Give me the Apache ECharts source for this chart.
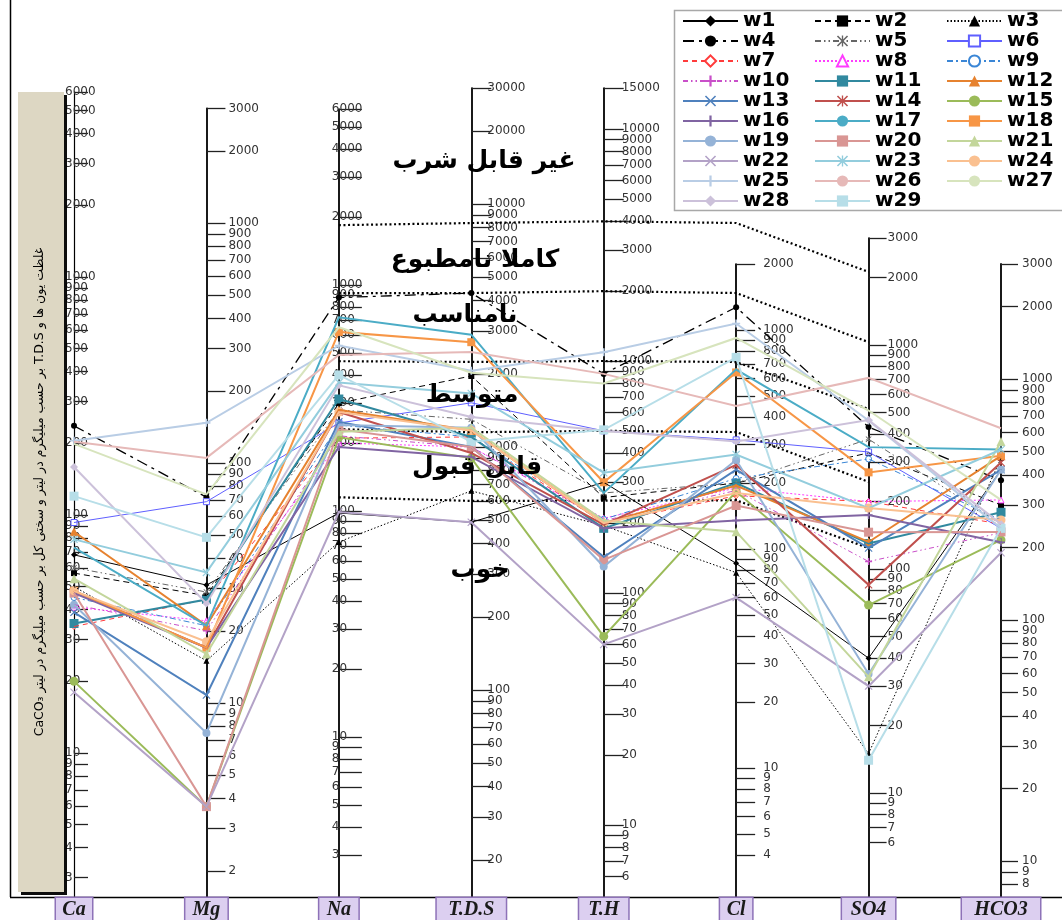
<!DOCTYPE html>
<html>
<head>
<meta charset="utf-8">
<script src="https://cdn.jsdelivr.net/npm/echarts@6/dist/echarts.min.js"></script>
<style>
  html, body { margin: 0; padding: 0; background: #fff; }
  #chart { width: 1062px; height: 920px; }
</style>
</head>
<body>
<div id="chart"></div>
<script>
// ---- Axes (Schoeller diagram, mg/L; total hardness as CaCO3) ----
const axisNames = ['Ca', 'Mg', 'Na', 'T.D.S', 'T.H', 'Cl', 'SO4', 'HCO3'];

// tick labels printed along each axis
const caTicks   = [6000,5000,4000,3000,2000,1000,900,800,700,600,500,400,300,200,100,90,80,70,60,50,40,30,20,10,9,8,7,6,5,4,3];
const mgTicks   = [3000,2000,1000,900,800,700,600,500,400,300,200,100,90,80,70,60,50,40,30,20,10,9,8,7,6,5,4,3,2];
const naTicks   = [6000,5000,4000,3000,2000,1000,900,800,700,600,500,400,300,200,100,90,80,70,60,50,40,30,20,10,9,8,7,6,5,4,3];
const tdsTicks  = [30000,20000,10000,9000,8000,7000,6000,5000,4000,3000,2000,1000,900,800,700,600,500,400,300,200,100,90,80,70,60,50,40,30,20];
const thTicks   = [15000,10000,9000,8000,7000,6000,5000,4000,3000,2000,1000,900,800,700,600,500,400,300,200,100,90,80,70,60,50,40,30,20,10,9,8,7,6];
const clTicks   = [2000,1000,900,800,700,600,500,400,300,200,100,90,80,70,60,50,40,30,20,10,9,8,7,6,5,4];
const so4Ticks  = [3000,2000,1000,900,800,700,600,500,400,300,200,100,90,80,70,60,50,40,30,20,10,9,8,7,6];
const hco3Ticks = [3000,2000,1000,900,800,700,600,500,400,300,200,100,90,80,70,60,50,40,30,20,10,9,8];
const axisTicks = [caTicks, mgTicks, naTicks, tdsTicks, thTicks, clTicks, so4Ticks, hco3Ticks];

// ---- Wells: [Ca, Mg, Na, TDS, TH, Cl, SO4, HCO3] ----
const w1  = [68, 31, 98, 490, 300, 86, 40, 420];
const w2  = [57, 28, 300, 1960, 258, 200, 330, 300];
const w3  = [50, 15, 73, 660, 195, 78, 15, 470];
const w4  = [237, 72, 880, 4300, 880, 1270, 430, 380];
const w5  = [60, 29, 280, 1300, 270, 200, 380, 250];
const w6  = [93, 69, 245, 1520, 500, 315, 333, 240];
const w7  = [34, 27, 210, 1100, 200, 175, 200, 250];
const w8  = [41, 22, 200, 1000, 210, 190, 200, 315];
const w9  = [45, 21, 240, 1100, 208, 210, 310, 260];
const w10 = [42, 20, 215, 1000, 205, 185, 108, 230];
const w11 = [35, 27, 313, 1100, 190, 200, 130, 280];
const w12 = [85, 21, 280, 1170, 200, 195, 132, 480];
const w13 = [39, 10.8, 248, 1000, 143, 230, 124, 420];
const w14 = [48, 17, 274, 945, 197, 242, 85, 450];
const w15 = [20, 3.7, 212, 900, 65, 183, 69, 215];
const w16 = [47, 17, 192, 910, 190, 135, 174, 210];
const w17 = [73, 21, 720, 2900, 270, 660, 350, 510];
const w18 = [48, 17, 620, 2700, 300, 640, 270, 480];
const w19 = [42, 7.5, 240, 1200, 130, 255, 34, 420];
const w20 = [47, 3.7, 230, 1000, 139, 158, 146, 232];
const w21 = [54, 16, 224, 1200, 205, 120, 33, 550];
const w22 = [18, 3.7, 99, 490, 60, 60, 30, 190];
const w23 = [79, 35, 370, 1660, 330, 270, 187, 510];
const w24 = [48, 18, 274, 1170, 200, 180, 187, 260];
const w25 = [205, 147, 540, 2060, 1090, 1070, 460, 240];
const w26 = [203, 105, 490, 2460, 880, 450, 713, 625];
const w27 = [199, 74, 650, 2020, 800, 920, 510, 315];
const w28 = [159, 26, 360, 1330, 500, 310, 462, 250];
const w29 = [120, 49, 400, 1050, 505, 750, 14, 240];
const wellNames = ['w1','w2','w3','w4','w5','w6','w7','w8','w9','w10','w11','w12','w13','w14','w15',
                   'w16','w17','w18','w19','w20','w21','w22','w23','w24','w25','w26','w27','w28','w29'];
const wells = [w1,w2,w3,w4,w5,w6,w7,w8,w9,w10,w11,w12,w13,w14,w15,w16,w17,w18,w19,w20,w21,w22,w23,w24,w25,w26,w27,w28,w29];

// ---- Drinking-water class boundaries (Na, TDS, TH, Cl, SO4) ----
const naLimits  = [1840, 920, 460, 230, 115];
const tdsLimits = [8350, 4300, 2240, 1150, 600];
const thLimits  = [4000, 2000, 1000, 500, 250];
const clLimits  = [3080, 1475, 714, 342, 167];
const so4Limits = [2120, 1030, 518, 245, 124];
const classNames = ['غیر قابل شرب', 'کاملا نامطبوع', 'نامناسب', 'متوسط', 'قابل قبول', 'خوب'];

// ---- Layout ----
const W = 1062;
const plotTop = 88, plotBottom = 897;
const firstX = 74, stepX = 132.43;
const axisX = i => firstX + i * stepX;
// each axis: pixel of the value 100, pixels per decade, top printed value
const axisScale = [
  { y100: 515, k: 238, top: 6000 },
  { y100: 463, k: 240, top: 3000 },
  { y100: 511, k: 226, top: 6000 },
  { y100: 690, k: 243, top: 30000 },
  { y100: 593, k: 232, top: 15000 },
  { y100: 549, k: 219, top: 2000 },
  { y100: 569, k: 224, top: 3000 },
  { y100: 620, k: 241, top: 3000 }
];
const valAtY = (a, y) => 100 * Math.pow(10, (a.y100 - y) / a.k);
const yAtVal = (a, v) => a.y100 - a.k * Math.log10(v / 100);
const labelMargin = [-9, 22, -7, 16, 18, 27, 19, 21];
const tickLen = [14, 19, 23, 20, 20, 19, 18, 17];
const nameBoxWidth = [36, 42, 39, 69, 49, 32, 53, 78];

// ---- Series styles ----
const styles = [
  { color: '#000000', width: 1,   type: 'solid',             marker: 'diamond',  size: 6 },
  { color: '#000000', width: 1,   type: [6, 4],              marker: 'rect',     size: 6 },
  { color: '#000000', width: 1,   type: [1.5, 2],            marker: 'triangle', size: 6 },
  { color: '#000000', width: 1.3, type: [11, 5, 3, 5],       marker: 'circle',   size: 6 },
  { color: '#666666', width: 1,   type: [6, 3, 1.5, 3, 1.5, 3], marker: 'star',  size: 6 },
  { color: '#5f5fff', width: 1,   type: 'solid',             marker: 'rect',     size: 6, hollow: true },
  { color: '#ff3b3b', width: 1,   type: [5, 4],              marker: 'diamond',  size: 6, hollow: true },
  { color: '#ff3cff', width: 1,   type: [2, 2],              marker: 'triangle', size: 6, hollow: true },
  { color: '#3a86d6', width: 1,   type: [6, 3, 2, 3],        marker: 'circle',   size: 6, hollow: true },
  { color: '#c94fc9', width: 1,   type: [5, 3, 1.5, 3, 1.5, 3], marker: 'plus',  size: 7 },
  { color: '#31899f', width: 2,   type: 'solid',             marker: 'rect',     size: 9 },
  { color: '#e6822f', width: 2,   type: 'solid',             marker: 'triangle', size: 9 },
  { color: '#4f81bd', width: 2,   type: 'solid',             marker: 'cross',    size: 8 },
  { color: '#c0504d', width: 2,   type: 'solid',             marker: 'star',     size: 8 },
  { color: '#9bbb59', width: 2,   type: 'solid',             marker: 'circle',   size: 9 },
  { color: '#8064a2', width: 2,   type: 'solid',             marker: 'plus',     size: 8 },
  { color: '#4bacc6', width: 2,   type: 'solid',             marker: 'none',     size: 0 },
  { color: '#f79646', width: 2,   type: 'solid',             marker: 'dash',     size: 8 },
  { color: '#95b3d7', width: 2,   type: 'solid',             marker: 'circle',   size: 8 },
  { color: '#d99694', width: 2,   type: 'solid',             marker: 'rect',     size: 9 },
  { color: '#c3d69b', width: 2,   type: 'solid',             marker: 'triangle', size: 9 },
  { color: '#b3a2c7', width: 2,   type: 'solid',             marker: 'cross',    size: 8 },
  { color: '#93cddd', width: 2,   type: 'solid',             marker: 'star',     size: 8 },
  { color: '#fac090', width: 2,   type: 'solid',             marker: 'circle',   size: 9 },
  { color: '#b9cde5', width: 2,   type: 'solid',             marker: 'plus',     size: 8 },
  { color: '#e6b9b8', width: 2,   type: 'solid',             marker: 'none',     size: 0 },
  { color: '#d7e4bd', width: 2,   type: 'solid',             marker: 'none',     size: 0 },
  { color: '#ccc1da', width: 2,   type: 'solid',             marker: 'diamond',  size: 8 },
  { color: '#b7dee8', width: 2,   type: 'solid',             marker: 'rect',     size: 9 }
];

const markerPaths = {
  rect: 'M0,0H10V10H0Z',
  diamond: 'M5,0L10,5L5,10L0,5Z',
  triangle: 'M5,0L10,10H0Z',
  circle: 'M0,5A5,5,0,1,1,10,5A5,5,0,1,1,0,5Z',
  plus: 'M4,0H6V4H10V6H6V10H4V6H0V4H4Z',
  cross: 'M1,0L5,4L9,0L10,1L6,5L10,9L9,10L5,6L1,10L0,9L4,5L0,1Z',
  star: 'M1,0L5,4L9,0L10,1L6,5L10,9L9,10L5,6L1,10L0,9L4,5L0,1Z M4.4,0H5.6V10H4.4Z',
  dash: 'M0,3.5H10V6.5H0Z'
};
const emptySymbols = { rect: 'emptyRect', diamond: 'emptyDiamond', triangle: 'emptyTriangle', circle: 'emptyCircle' };
const legendSymbol = s => s.marker === 'none' ? 'none'
  : (s.hollow ? emptySymbols[s.marker] : 'path://' + markerPaths[s.marker]);

const chart = echarts.init(document.getElementById('chart'), null, { renderer: 'canvas' });

// point markers placed through the parallel coordinate system's own axes
function markerRenderer(si) {
  return function (params, api) {
    const st = styles[si];
    if (st.marker === 'none') return null;
    const par = chart.getModel().getComponent('parallel', 0);
    const cs = par && par.coordinateSystem;
    if (!cs) return null;
    const pt = cs.dataToPoint(api.value(1), 'dim' + api.value(0));
    const s = st.size;
    return {
      type: 'path',
      shape: { pathData: markerPaths[st.marker], x: pt[0] - s / 2, y: pt[1] - s / 2, width: s, height: s, layout: 'cover' },
      style: st.hollow ? { fill: '#fff', stroke: st.color, lineWidth: 1 } : { fill: st.color }
    };
  };
}

const tickFont = '"DejaVu Sans", sans-serif';

// visible axis scales (one narrow grid per axis)
const grids = [], xAxes = [], yAxes = [];
axisScale.forEach((a, i) => {
  grids.push({ left: axisX(i), top: yAtVal(a, a.top), bottom: 920 - plotBottom, width: 10 });
  xAxes.push({ gridIndex: i, type: 'value', show: false });
  yAxes.push({
    gridIndex: i, type: 'log', logBase: 10, position: 'left',
    min: valAtY(a, plotBottom), max: a.top,
    axisLine: { show: true, onZero: false, lineStyle: { color: '#000', width: i === 0 ? 1.2 : 1.8 } },
    axisTick: { show: true, inside: true, length: tickLen[i], customValues: axisTicks[i],
                lineStyle: { color: '#222', width: 1.3 } },
    axisLabel: { show: true, inside: true, margin: labelMargin[i], customValues: axisTicks[i],
                 formatter: v => String(Math.round(v)),
                 color: '#333', fontSize: 12, fontFamily: tickFont },
    splitLine: { show: false }
  });
});
// hidden grid that only carries the legend entries
grids.push({ left: -200, top: -200, width: 10, height: 10 });
xAxes.push({ gridIndex: 8, type: 'value', show: false });
yAxes.push({ gridIndex: 8, type: 'value', show: false });

// the parallel axes only position the lines; their own scale text stays blank
const hiddenAxisParts = {
  axisLine: { show: false }, axisTick: { show: false },
  axisLabel: { show: false, formatter: () => '', color: 'rgba(0,0,0,0)' },
  splitLine: { show: false }, minorTick: { show: false }
};

// parallel axes carrying the data lines
const parallelAxes = axisScale.map((a, i) => Object.assign({
  dim: i, parallelIndex: 0, type: 'log', logBase: 10,
  min: valAtY(a, plotBottom), max: valAtY(a, plotTop),
  name: axisNames[i], nameLocation: 'start', nameGap: 1,
  nameTruncate: { maxWidth: nameBoxWidth[i], ellipsis: '' },
  nameTextStyle: {
    fontFamily: '"Liberation Serif", serif', fontStyle: 'italic', fontWeight: 'bold',
    fontSize: 20, lineHeight: 21, color: '#1a1a1a', backgroundColor: '#dccff0',
    borderColor: '#8e72b8', borderWidth: 1.5, padding: [1, 0, 1, 0],
    width: nameBoxWidth[i], align: 'center'
  }
}, hiddenAxisParts));
// second parallel system for the class boundary lines (Na .. SO4)
[2, 3, 4, 5, 6].forEach((ai, j) => {
  const a = axisScale[ai];
  parallelAxes.push(Object.assign({ dim: j, parallelIndex: 1, type: 'log', logBase: 10,
    min: valAtY(a, plotBottom), max: valAtY(a, plotTop) }, hiddenAxisParts));
});

const series = [];
// legend carriers
styles.forEach((st, i) => {
  series.push({
    type: 'line', name: wellNames[i], xAxisIndex: 8, yAxisIndex: 8, data: [],
    symbol: legendSymbol(st), symbolSize: Math.min(st.size, 8),
    itemStyle: { color: st.color },
    lineStyle: { color: st.color, width: Math.max(st.width, 1.5), type: st.type }
  });
});
// class boundaries
series.push({
  type: 'parallel', parallelIndex: 1, silent: true,
  lineStyle: { color: '#000', width: 2.2, type: [2, 2.6], opacity: 1 },
  inactiveOpacity: 1, activeOpacity: 1,
  data: naLimits.map((v, j) => [naLimits[j], tdsLimits[j], thLimits[j], clLimits[j], so4Limits[j]])
});
// wells
wells.forEach((vals, i) => {
  const st = styles[i];
  series.push({
    type: 'parallel', parallelIndex: 0, name: wellNames[i], silent: true,
    lineStyle: { color: st.color, width: st.width, type: st.type, opacity: 1 },
    inactiveOpacity: 1, activeOpacity: 1,
    data: [vals]
  });
  series.push({
    type: 'custom', name: wellNames[i], coordinateSystem: 'none', silent: true,
    renderItem: markerRenderer(i),
    data: vals.map((v, ai) => [ai, v])
  });
});

const classLabelPos = [[484, 161], [475, 260], [465, 315], [472, 395], [477, 467], [480, 570]];
const titleText = '\u202Bغلظت یون ها و T.D.S بر حسب میلیگرم در لیتر و سختی کل بر حسب میلیگرم در لیتر CaCO₃\u202C';

const graphics = [
  // frame
  { type: 'line', shape: { x1: 10.5, y1: 0, x2: 10.5, y2: plotBottom }, style: { stroke: '#000', lineWidth: 1.5 }, z: 0 },
  { type: 'line', shape: { x1: 10, y1: plotBottom + 0.5, x2: W, y2: plotBottom + 0.5 }, style: { stroke: '#000', lineWidth: 1.5 }, z: 0 },
  // side caption box
  { type: 'rect', shape: { x: 18, y: 92, width: 46, height: 800 },
    style: { fill: '#ddd7c3', shadowColor: 'rgba(0,0,0,0.95)', shadowOffsetX: 3, shadowOffsetY: 3, shadowBlur: 0 }, z: 1 },
  { type: 'text', x: 40, y: 492, rotation: Math.PI / 2, z: 2,
    style: { text: titleText, font: '12.5px "DejaVu Sans", sans-serif', fill: '#000', align: 'center', verticalAlign: 'middle' } },
  // legend frame
  { type: 'rect', shape: { x: 674.5, y: 10.5, width: 390, height: 200 },
    style: { fill: '#fff', stroke: '#a8a8a8', lineWidth: 1.5 }, z: 0 }
];
classNames.forEach((t, j) => {
  graphics.push({ type: 'text', x: classLabelPos[j][0], y: classLabelPos[j][1], z: 5,
    style: { text: t, font: 'bold 25px "DejaVu Sans", sans-serif', fill: '#000', align: 'center', verticalAlign: 'middle' } });
});

chart.setOption({
  animation: false,
  backgroundColor: '#fff',
  grid: grids,
  xAxis: xAxes,
  yAxis: yAxes,
  parallel: [
    { left: firstX, right: W - axisX(7), top: plotTop, bottom: 920 - plotBottom, layout: 'horizontal' },
    { left: axisX(2), right: W - axisX(6), top: plotTop, bottom: 920 - plotBottom, layout: 'horizontal' }
  ],
  parallelAxis: parallelAxes,
  legend: {
    data: wellNames, left: 682, top: 11, width: 400, padding: 0,
    itemWidth: 55, itemHeight: 14, itemGap: 0, selectedMode: false,
    textStyle: { fontFamily: '"DejaVu Sans", sans-serif', fontWeight: 'bold', fontSize: 20,
                 color: '#000', width: 71, lineHeight: 20 }
  },
  graphic: graphics,
  series: series
});
</script>
</body>
</html>
